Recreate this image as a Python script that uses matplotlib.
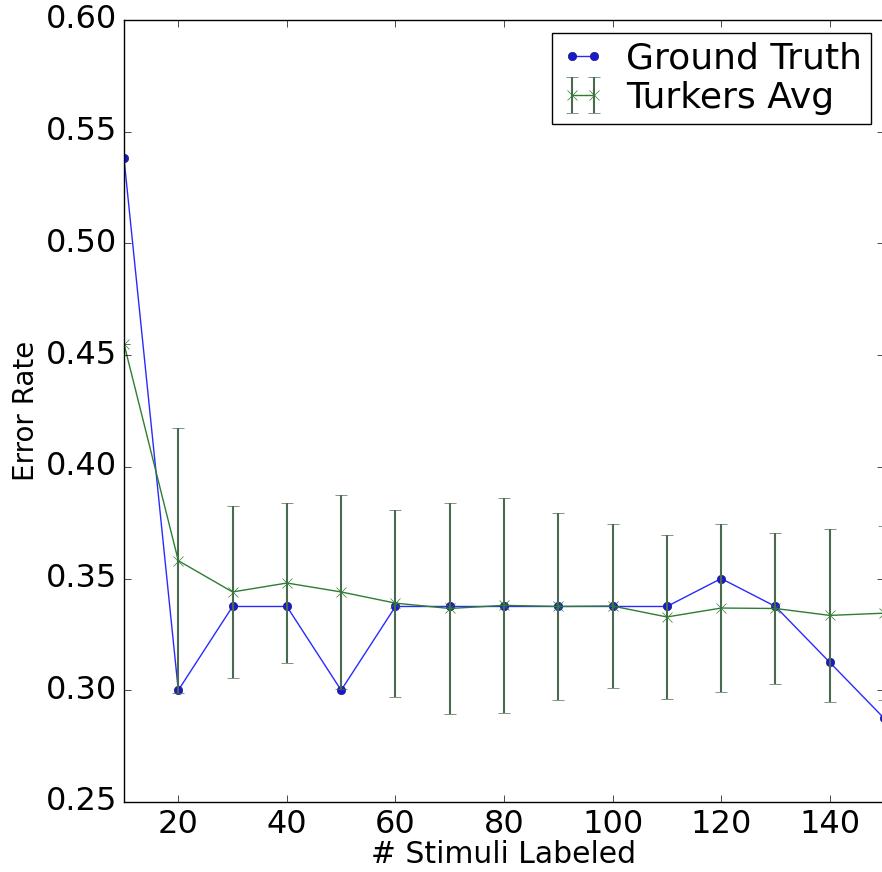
import numpy as np
import matplotlib
matplotlib.use("Agg")
import matplotlib.pyplot as plt

plt.style.use("classic")

# number of stimuli labeled
n_stimuli = [10, 20, 30, 40, 50, 60, 70, 80, 90, 100, 110, 120, 130, 140, 150]

# error rate of the ground truth labels
gt_err = [0.538, 0.300, 0.3375, 0.3375, 0.300, 0.3375, 0.3375, 0.3375, 0.3375,
          0.3375, 0.3375, 0.350, 0.3375, 0.3125, 0.2875]

# average error rate of the turkers and its spread
turk_err = [0.455, 0.358, 0.344, 0.348, 0.344, 0.339, 0.3366, 0.338, 0.3375,
            0.3377, 0.3328, 0.3368, 0.3366, 0.3335, 0.3345]
turk_std = [0.000, 0.0594, 0.0385, 0.0358, 0.0434, 0.0418, 0.0472, 0.0480, 0.0419,
            0.0367, 0.0367, 0.0378, 0.0338, 0.0387, 0.0390]

fig = plt.figure(figsize=(8.82, 8.72), dpi=100, facecolor="white")
ax = fig.add_axes([0.1406, 0.0803, 0.8617, 0.8968])
ax.set_facecolor("white")

ax.plot(n_stimuli, gt_err, "o-", color="#2a2aff", markerfacecolor="#1a1acc",
        markeredgecolor="#1a1a80", markersize=6, linewidth=1,
        label="Ground Truth")
ax.errorbar(n_stimuli, turk_err, yerr=turk_std, fmt="x-", color="#2e7d32",
            ecolor="#4a6a50", markersize=7, linewidth=1, elinewidth=1.5,
            capsize=4, label="Turkers Avg")

ax.set_xlim(10, 150)
ax.set_ylim(0.25, 0.60)
ax.set_xticks([20, 40, 60, 80, 100, 120, 140])
ax.set_yticks(np.arange(0.25, 0.601, 0.05))
ax.set_yticklabels(["%.2f" % v for v in np.arange(0.25, 0.601, 0.05)])
ax.tick_params(labelsize=23, direction="in", length=5, pad=5)

ax.set_xlabel("# Stimuli Labeled", fontsize=21.5, labelpad=0)
ax.set_ylabel("Error Rate", fontsize=20, labelpad=4)

leg = ax.legend(loc="upper right", fontsize=26, numpoints=2,
                handlelength=1.2, handletextpad=0.6, borderpad=0.25,
                labelspacing=0.15, borderaxespad=0.35)
leg.get_frame().set_linewidth(1)

fig.savefig("out.png", dpi=100, facecolor="white")
